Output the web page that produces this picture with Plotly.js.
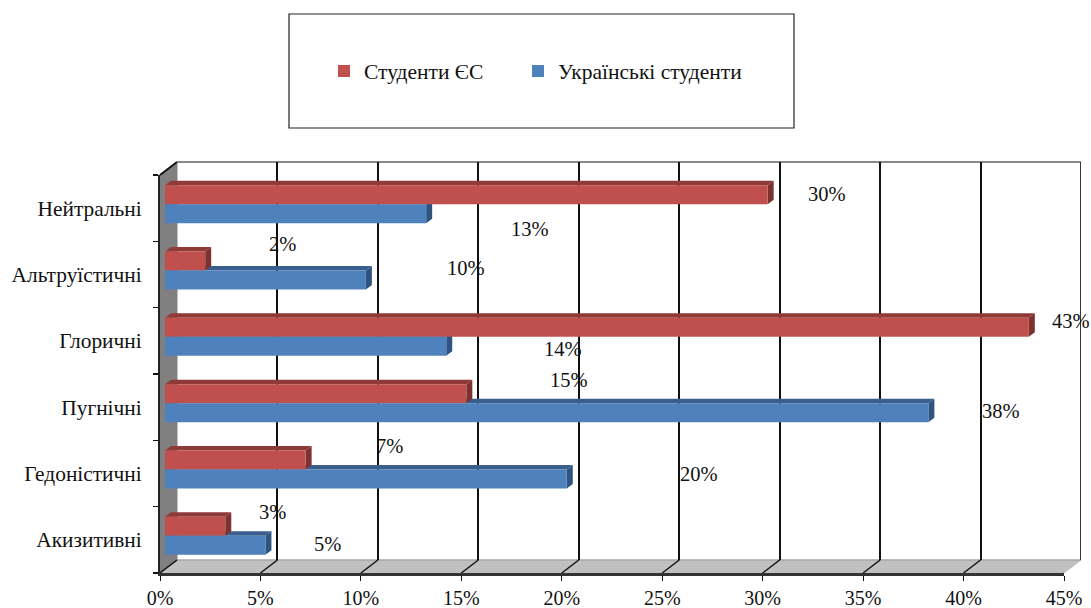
<!DOCTYPE html>
<html><head><meta charset="utf-8">
<script src="https://cdn.plot.ly/plotly-3.0.1.min.js"></script>
<style>html,body{margin:0;padding:0;background:#fff}</style></head>
<body><div id="chart" style="width:1091px;height:608px"></div>
<script>
// DATA (bottom to top)
const categories = ["Акизитивні","Гедоністичні","Пугнічні","Глоричні","Альтруїстичні","Нейтральні"];
const euName = "Студенти ЄС";
const uaName = "Українські студенти";
const euValues = [3,7,15,43,2,30];
const uaValues = [5,20,38,14,10,13];
const xTicks = [0,5,10,15,20,25,30,35,40,45];

// Label placement (pixels from bar end / bar centre)
const euLabelDx = [47,84,103,42,77,59];
const euLabelDy = [14,14,14,6,17,1];
const uaLabelDx = [62,132,73,117,100,104];
const uaLabelDy = [1,5,2,-3,12,-15];

// Geometry
const W=1091,H=608;
const fx=v=>v/W, fy=v=>1-v/H;
const font="Liberation Serif";
const pxPerX=(1064-160)/45, pxPerY=(573-175)/6;
const depthX=6/pxPerX, depthY=4.5/pxPerY;
const barW=19/pxPerY;
const idx=categories.map((_,i)=>i);
const faces=[];
function addFaces(vals,off,top,side){
  vals.forEach((v,i)=>{
    const a=i+off,b=a+barW;
    faces.push({type:"path",xref:"x3",yref:"y3",layer:"below",line:{width:0},fillcolor:top,
      path:`M0,${b} L${depthX},${b+depthY} L${v+depthX},${b+depthY} L${v},${b} Z`});
    faces.push({type:"path",xref:"x3",yref:"y3",layer:"below",line:{width:0},fillcolor:side,
      path:`M${v},${a} L${v+depthX},${a+depthY} L${v+depthX},${b+depthY} L${v},${b} Z`});
  });
}
addFaces(uaValues,-barW,"#3A5F8F","#2F5480");
addFaces(euValues,0,"#903A38","#7E3230");

function poly(pts,fill,line,lw){
  return {type:"path",xref:"paper",yref:"paper",layer:"below",fillcolor:fill,
    line:{color:line||fill,width:lw===undefined?1:lw},
    path:"M"+pts.map(q=>`${fx(q[0])},${fy(q[1])}`).join(" L")+" Z"};
}
const shapes=[
  poly([[160,573],[177,560],[1081,560],[1064,573]],"#C0C0C0","#C0C0C0",1),
  poly([[160,175],[177,162],[177,560],[160,573]],"#808080","#808080",1),
  {type:"line",xref:"paper",yref:"paper",layer:"below",x0:fx(160),x1:fx(177),y0:fy(175),y1:fy(162),line:{color:"#111",width:2}},
  {type:"line",xref:"paper",yref:"paper",layer:"below",x0:fx(177),x1:fx(1081),y0:fy(162),y1:fy(162),line:{color:"#888",width:2}},
  {type:"line",xref:"paper",yref:"paper",layer:"below",x0:fx(177),x1:fx(1081),y0:fy(560),y1:fy(560),line:{color:"#999",width:1}},
  {type:"line",xref:"x",yref:"paper",layer:"below",x0:45,x1:45,y0:fy(162),y1:fy(560),line:{color:"#333",width:2}},
  {type:"rect",xref:"paper",yref:"paper",x0:fx(289),x1:fx(794),y0:fy(128),y1:fy(14),line:{color:"#222",width:1.2},fillcolor:"rgba(0,0,0,0)"},
  ...xTicks.map(t=>({type:"line",xref:"x2",yref:"paper",layer:"below",xsizemode:"pixel",xanchor:t,x0:0,x1:17,
    y0:fy(573),y1:fy(560),line:{color:"#111",width:1.5}})),
  ...faces
];

const labelFont={family:font,size:20.5,color:"#111"};
const annotations=[];
euValues.forEach((v,i)=>annotations.push({xref:"x3",yref:"y3",x:v,y:i+barW/2,text:v+"%",showarrow:false,xshift:euLabelDx[i],yshift:euLabelDy[i],font:labelFont}));
uaValues.forEach((v,i)=>annotations.push({xref:"x3",yref:"y3",x:v,y:i-barW/2,text:v+"%",showarrow:false,xshift:uaLabelDx[i],yshift:uaLabelDy[i],font:labelFont}));

const data=[
  {type:"scatter",mode:"markers",x:[0,45],y:[0,1],xaxis:"x",yaxis:"y",marker:{opacity:0},showlegend:false,hoverinfo:"skip"},
  {type:"scatter",mode:"markers",x:categories.map(()=>0),y:categories,xaxis:"x2",yaxis:"y2",marker:{opacity:0},showlegend:false,hoverinfo:"skip"},
  {type:"bar",orientation:"h",name:euName,x:euValues,y:idx,xaxis:"x3",yaxis:"y3",width:barW,offset:0,marker:{color:"#C0504D",line:{width:0}},legend:"legend"},
  {type:"bar",orientation:"h",name:uaName,x:uaValues,y:idx,xaxis:"x3",yaxis:"y3",width:barW,offset:-barW,marker:{color:"#4F81BD",line:{width:0}},legend:"legend2"}
];
const legendBase={orientation:"v",xanchor:"left",yanchor:"middle",bgcolor:"rgba(0,0,0,0)",font:{family:font,size:21.5,color:"#111"},itemclick:false};
const layout={
  width:W,height:H,margin:{l:0,r:0,t:0,b:0},paper_bgcolor:"#fff",plot_bgcolor:"rgba(0,0,0,0)",
  font:{family:font,size:20,color:"#111"},barmode:"overlay",shapes,annotations,
  legend:{...legendBase,x:fx(324),y:fy(71)},
  legend2:{...legendBase,x:fx(518),y:fy(71)},
  // back wall
  xaxis:{domain:[fx(177),fx(1081)],range:[0,45],tickvals:xTicks,showticklabels:false,ticks:"",showgrid:true,gridcolor:"#111",gridwidth:2,zeroline:false,showline:false,anchor:"y"},
  yaxis:{domain:[fy(560),fy(162)],range:[0,1],showticklabels:false,ticks:"",showgrid:false,zeroline:false,showline:false,anchor:"x"},
  // front axes
  xaxis2:{domain:[fx(160),fx(1064)],range:[0,45],tickvals:xTicks,ticktext:xTicks.map(t=>t+"%"),ticks:"outside",ticklen:5,tickwidth:1,tickcolor:"#111",
    showgrid:false,zeroline:false,showline:true,linecolor:"#333",linewidth:2.5,anchor:"y2",tickfont:{family:font,size:20,color:"#111"}},
  yaxis2:{domain:[fy(573),fy(175)],type:"category",categoryorder:"array",categoryarray:categories,range:[-0.5,5.5],tickson:"boundaries",
    ticks:"outside",ticklen:5,tickwidth:1.5,tickcolor:"#111",showgrid:false,zeroline:false,showline:true,linecolor:"#222",linewidth:2,anchor:"x2",
    ticklabelstandoff:12,tickfont:{family:font,size:21.4,color:"#111"}},
  // bar plane
  xaxis3:{domain:[fx(165),fx(1069)],range:[0,45],visible:false,anchor:"y3"},
  yaxis3:{domain:[fy(569),fy(171)],range:[-0.5,5.5],visible:false,anchor:"x3"}
};
Plotly.newPlot("chart",data,layout,{displayModeBar:false,staticPlot:true});
</script></body></html>
